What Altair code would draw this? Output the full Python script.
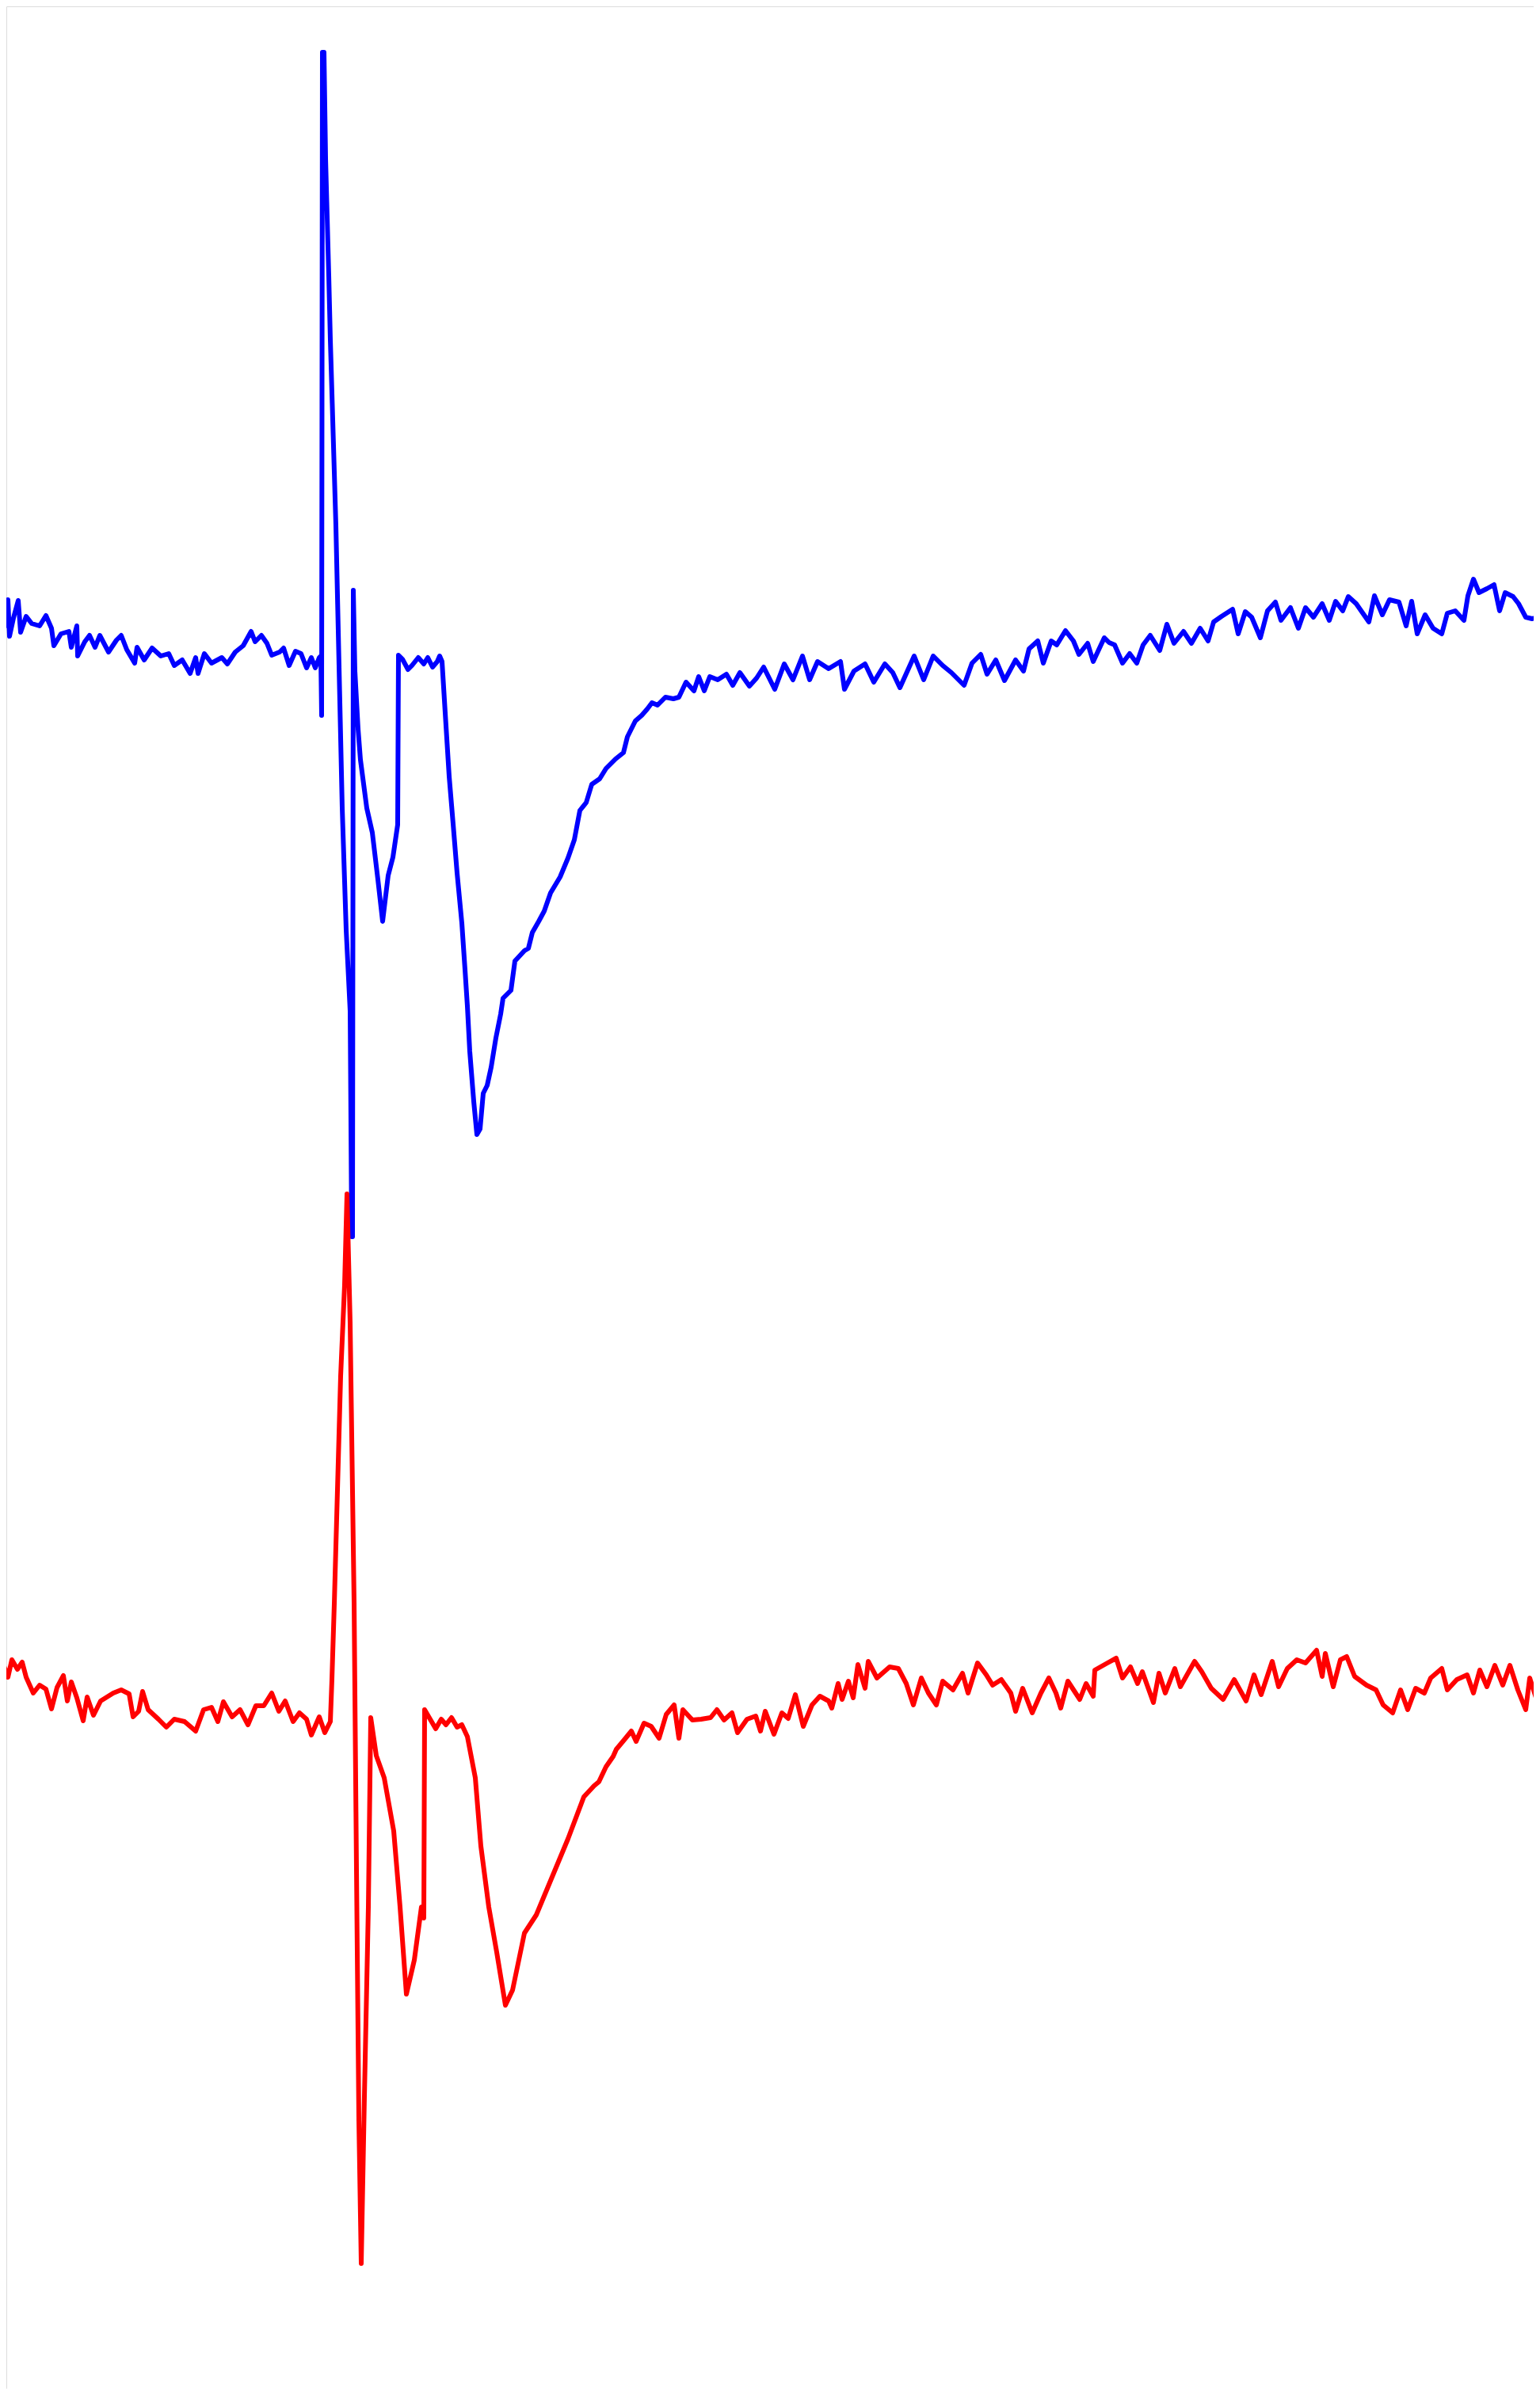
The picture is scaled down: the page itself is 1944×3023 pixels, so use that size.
import altair as alt
import pandas as pd

# Upper (blue) trace: time (samples) and amplitude (arbitrary units)
blue_t = [0, 3, 7, 10, 12, 17, 23, 26, 33, 40, 50, 58, 65, 68, 77, 87, 90, 97, 98, 107,
          113, 120, 126, 137, 147, 153, 160, 170, 173, 182, 192, 203, 213, 220, 230, 240, 247, 250, 258, 267,
          280, 287, 297, 307, 317, 322, 330, 337, 343, 353, 358, 365, 373, 380, 387, 393, 398, 403, 405, 406,
          407, 409, 411, 415, 417, 424, 432, 437, 442, 444, 445, 446, 448, 452, 455, 463, 470, 477, 483, 490,
          496, 502, 503, 508, 515, 520, 528, 535, 540, 546, 552, 555, 558, 562, 567, 572, 577, 583, 587, 590,
          593, 598, 602, 606, 610, 615, 620, 626, 632, 635, 645, 650, 662, 667, 672, 680, 687, 695, 707, 717,
          725, 732, 740, 747, 757, 765, 777, 787, 792, 802, 810, 817, 823, 830, 840, 850, 857, 866, 876, 882,
          889, 896, 906, 917, 925, 934, 946, 955, 964, 978, 990, 1001, 1013, 1022, 1032, 1046, 1061, 1066, 1078, 1092,
          1103, 1117, 1127, 1136, 1154, 1166, 1178, 1190, 1201, 1217, 1227, 1238, 1246, 1257, 1268, 1282, 1292, 1299, 1310, 1317,
          1327, 1334, 1345, 1355, 1362, 1373, 1380, 1394, 1400, 1407, 1417, 1426, 1435, 1443, 1452, 1464, 1473, 1482, 1494, 1504,
          1515, 1525, 1532, 1542, 1556, 1563, 1572, 1580, 1591, 1600, 1610, 1617, 1629, 1639, 1648, 1658, 1669, 1678, 1686, 1695,
          1702, 1712, 1728, 1735, 1745, 1754, 1766, 1775, 1782, 1789, 1799, 1809, 1820, 1827, 1837, 1848, 1853, 1860, 1867, 1877,
          1886, 1893, 1900, 1910, 1917, 1926, 1934, 1938]
blue_v = [727, 717, 710, 743, 697, 720, 742, 702, 722, 713, 710, 723, 707, 685, 700, 703, 683, 710, 672, 690,
          698, 683, 698, 677, 692, 698, 680, 663, 683, 667, 682, 672, 675, 660, 667, 650, 670, 650, 675, 663,
          670, 662, 677, 685, 703, 690, 698, 688, 673, 677, 682, 660, 678, 675, 657, 670, 657, 670, 672, 597,
          1434, 1434, 1300, 1153, 1071, 837, 480, 326, 224, -61, -61, 755, 653, 580, 541, 480, 449, 390, 337, 395,
          418, 459, 673, 668, 655, 660, 670, 662, 670, 658, 665, 672, 665, 600, 520, 460, 398, 335, 276, 230,
          173, 110, 68, 75, 120, 130, 153, 190, 220, 240, 250, 287, 300, 303, 323, 337, 350, 373, 393, 417,
          440, 477, 487, 510, 517, 530, 542, 550, 570, 590, 597, 605, 613, 610, 620, 618, 620, 639, 628, 646,
          628, 646, 642, 649, 635, 651, 634, 644, 658, 630, 662, 642, 672, 642, 665, 656, 665, 630, 653, 662,
          639, 662, 651, 632, 672, 642, 672, 660, 651, 635, 663, 674, 649, 667, 641, 667, 653, 681, 691, 663,
          691, 686, 704, 691, 674, 688, 665, 695, 689, 686, 663, 675, 663, 686, 698, 679, 712, 688, 703, 688,
          707, 691, 715, 722, 731, 700, 728, 721, 695, 729, 740, 717, 733, 707, 733, 721, 738, 717, 741, 729,
          747, 738, 715, 748, 724, 743, 740, 710, 741, 700, 724, 707, 700, 726, 729, 717, 748, 769, 752, 757,
          762, 729, 752, 747, 738, 721, 719, 720]

# Lower (red) trace
red_t = [0, 5, 10, 15, 22, 28, 33, 42, 50, 58, 65, 72, 80, 85, 90, 97, 105, 110, 118, 127,
         135, 143, 153, 163, 168, 175, 180, 187, 200, 210, 220, 233, 247, 257, 267, 275, 282, 293, 303, 313,
         323, 333, 343, 352, 360, 370, 378, 387, 393, 403, 410, 417, 419, 422, 430, 435, 438, 442, 447, 450,
         453, 456, 460, 465, 468, 475, 485, 497, 505, 513, 523, 532, 535, 536, 550, 557, 563, 570, 577, 583,
         590, 600, 607, 617, 627, 638, 647, 662, 677, 697, 717, 737, 750, 756, 765, 774, 778, 788, 797, 803,
         813, 822, 832, 841, 851, 857, 862, 874, 885, 897, 905, 914, 924, 931, 943, 954, 960, 966, 977, 987,
         995, 1004, 1014, 1025, 1035, 1046, 1050, 1058, 1063, 1071, 1077, 1083, 1092, 1096, 1107, 1123, 1134, 1144, 1153, 1163,
         1172, 1182, 1190, 1203, 1215, 1222, 1234, 1245, 1253, 1264, 1276, 1282, 1291, 1303, 1314, 1324, 1333, 1339, 1348, 1363,
         1371, 1380, 1382, 1398, 1409, 1417, 1427, 1436, 1442, 1456, 1463, 1471, 1483, 1490, 1508, 1517, 1529, 1544, 1558, 1573,
         1583, 1592, 1606, 1614, 1625, 1637, 1648, 1662, 1669, 1673, 1683, 1692, 1700, 1710, 1725, 1737, 1746, 1758, 1768, 1777,
         1787, 1798, 1806, 1820, 1827, 1839, 1852, 1860, 1868, 1877, 1887, 1897, 1906, 1916, 1926, 1931, 1941, 1944]
red_v = [-622, -603, -617, -595, -607, -598, -617, -637, -627, -632, -657, -630, -615, -647, -623, -643, -672, -642, -665, -647,
         -642, -637, -633, -638, -667, -660, -635, -658, -670, -680, -670, -673, -685, -658, -655, -673, -648, -667, -658, -677,
         -653, -653, -637, -660, -647, -673, -662, -670, -690, -667, -687, -673, -620, -524, -237, -122, -7, -170, -524, -859,
         -1175, -1357, -1146, -907, -668, -716, -744, -811, -907, -1017, -974, -907, -921, -658, -682, -670, -677, -668, -680, -677,
         -692, -744, -830, -907, -964, -1031, -1012, -940, -917, -869, -821, -768, -754, -749, -730, -717, -708, -696, -685, -698,
         -675, -679, -694, -664, -652, -694, -658, -671, -670, -668, -658, -671, -662, -687, -670, -666, -685, -660, -689, -662,
         -669, -639, -679, -652, -641, -647, -656, -625, -645, -622, -643, -601, -631, -597, -618, -604, -606, -625, -652, -618,
         -637, -652, -622, -633, -612, -637, -599, -614, -627, -620, -637, -660, -631, -662, -637, -618, -637, -656, -622, -645,
         -625, -641, -608, -599, -593, -618, -604, -625, -610, -649, -612, -637, -606, -629, -597, -610, -631, -645, -620, -647,
         -614, -639, -597, -629, -606, -595, -599, -583, -616, -587, -629, -595, -591, -616, -627, -633, -652, -662, -633, -658,
         -631, -637, -618, -606, -633, -620, -614, -637, -608, -629, -602, -627, -602, -633, -658, -618, -649, -640]

rows = []
for i, (t, v) in enumerate(zip(blue_t, blue_v)):
    rows.append({"trace": "upper", "t": t, "v": v, "i": i})
for i, (t, v) in enumerate(zip(red_t, red_v)):
    rows.append({"trace": "lower", "t": t, "v": v, "i": i})
df = pd.DataFrame(rows)

W, H = 1928, 3007

chart = alt.Chart(df).mark_line(strokeWidth=6, strokeJoin="round").encode(
    x=alt.X("t:Q", axis=None, scale=alt.Scale(domain=[8, 8 + W], nice=False, zero=False)),
    y=alt.Y("v:Q", axis=None, scale=alt.Scale(domain=[1500 - (8 + H), 1500 - 8], nice=False, zero=False)),
    color=alt.Color("trace:N", legend=None,
                    scale=alt.Scale(domain=["upper", "lower"], range=["#0000ff", "#ff0000"])),
    order="i:Q",
).properties(
    width=W, height=H, autosize=alt.AutoSizeParams(type="none"), padding=0,
).configure_view(stroke=None).configure(background="white")

chart.save("out.html", embed_options={"renderer": "svg", "actions": False})
